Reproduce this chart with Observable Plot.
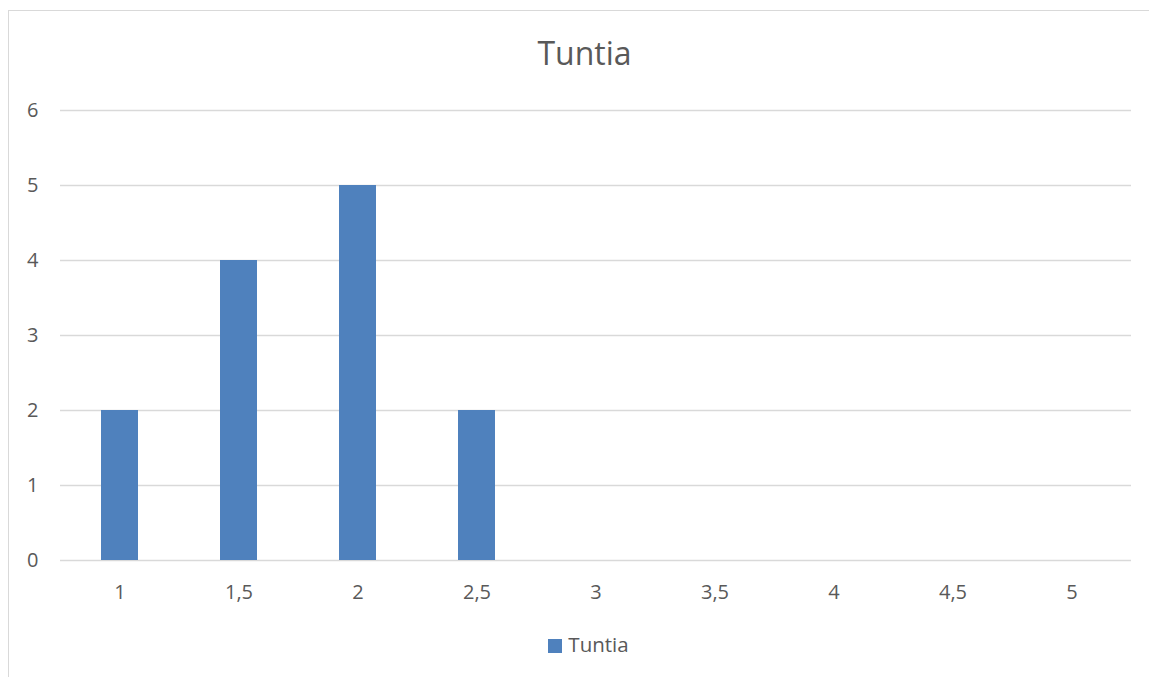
<!DOCTYPE html>
<html>
<head>
<meta charset="utf-8">
<script src="https://cdn.jsdelivr.net/npm/d3@7"></script>
<script src="https://cdn.jsdelivr.net/npm/@observablehq/plot@0.6"></script>
<style>
  html, body { margin: 0; padding: 0; background: #fff; }
  #wrap { position: relative; width: 1149px; height: 677px; overflow: hidden; font-family: "Open Sans", sans-serif; }
  #frame { position: absolute; left: 8px; top: 10px; width: 1160px; height: 700px; border-left: 1.5px solid #d9d9d9; border-top: 1.5px solid #d9d9d9; box-sizing: border-box; }
  #title { position: absolute; left: 0; width: 1169px; top: 31px; text-align: center; font-size: 32px; color: #595959; }
  #legend { position: absolute; left: 0; width: 1177px; top: 630px; text-align: center; font-size: 20.5px; color: #595959; line-height: 28px; }
  #legend .sw { display: inline-block; width: 14px; height: 14px; background: #4f81bd; margin-right: 6px; vertical-align: -1px; }
  #chart { position: absolute; left: 0; top: 0; }
</style>
</head>
<body>
<div id="wrap">
  <div id="frame"></div>
  <div id="chart"></div>
  <div id="title">Tuntia</div>
  <div id="legend"><span class="sw"></span>Tuntia</div>
</div>
<script>
const categories = ["1", "1,5", "2", "2,5", "3", "3,5", "4", "4,5", "5"];
const values = [2, 4, 5, 2, 0, 0, 0, 0, 0];
const yTicks = [0, 1, 2, 3, 4, 5, 6];
const seriesName = "Tuntia";

const data = categories.map((c, i) => ({category: c, value: values[i]}));

const chart = Plot.plot({
  width: 1149,
  height: 677,
  marginLeft: 60,
  marginRight: 18,
  marginTop: 110,
  marginBottom: 117,
  style: {fontFamily: "'Open Sans', sans-serif", fontSize: "20px", color: "#595959", background: "transparent"},
  x: {type: "band", domain: categories, paddingInner: 0.69, paddingOuter: 0.345, label: null},
  y: {domain: [0, 6], label: null},
  marks: [
    Plot.ruleY(yTicks, {stroke: "#d9d9d9", strokeWidth: 1.5}),
    Plot.barY(data, {x: "category", y: "value", fill: "#4f81bd"}),
    Plot.axisX({tickSize: 0, tickPadding: 24, fill: "#595959", fontSize: 20}),
    Plot.axisY({ticks: yTicks, tickSize: 0, tickPadding: 22, fill: "#595959", fontSize: 20, tickFormat: d => String(d)})
  ]
});
document.getElementById("chart").appendChild(chart);
</script>
</body>
</html>
